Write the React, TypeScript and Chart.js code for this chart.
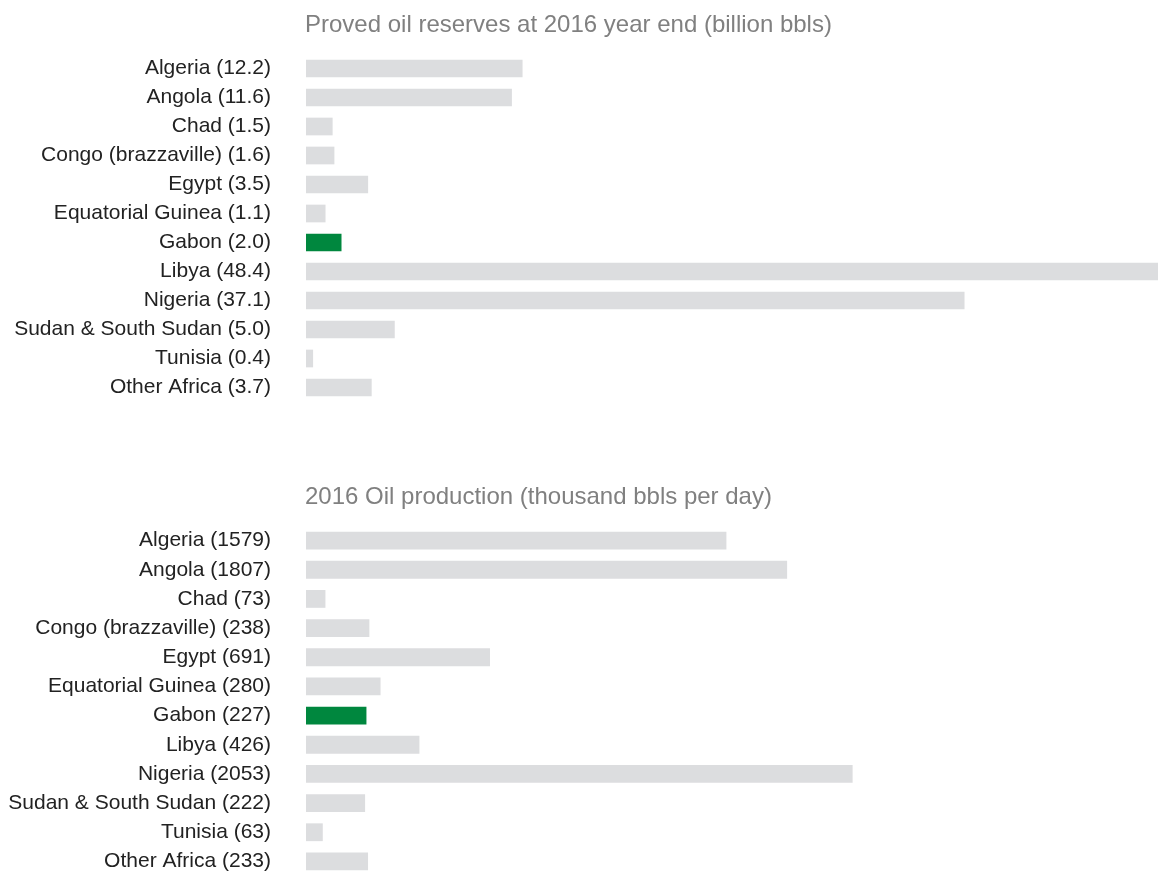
import React, { useEffect, useRef } from "react";
import { Chart, registerables } from "chart.js";

Chart.register(...registerables);

const categories = [
  "Algeria",
  "Angola",
  "Chad",
  "Congo (brazzaville)",
  "Egypt",
  "Equatorial Guinea",
  "Gabon",
  "Libya",
  "Nigeria",
  "Sudan & South Sudan",
  "Tunisia",
  "Other Africa",
];

const reservesValues = [12.2, 11.6, 1.5, 1.6, 3.5, 1.1, 2.0, 48.4, 37.1, 5.0, 0.4, 3.7];
const productionValues = [1579, 1807, 73, 238, 691, 280, 227, 426, 2053, 222, 63, 233];

const reservesTitle = "Proved oil reserves at 2016 year end (billion bbls)";
const productionTitle = "2016 Oil production (thousand bbls per day)";

const reservesMax = 48;
const productionMax = 3200;

const highlight = "Gabon";

const GRAY = "#dcdddf";
const GREEN = "#00873e";
const FONT = "'Liberation Sans', Arial, Helvetica, sans-serif";

const panelTitlePlugin = {
  id: "panelTitle",
  afterDraw(chart: any, _args: any, opts: any) {
    const { ctx, chartArea } = chart;
    ctx.save();
    ctx.font = `24px ${FONT}`;
    ctx.fillStyle = "#808080";
    ctx.textAlign = "left";
    ctx.textBaseline = "middle";
    ctx.fillText(opts.text, chartArea.left - 1, opts.y);
    ctx.restore();
  },
};

function BarPanel({
  title,
  values,
  max,
  decimals,
  top,
  padBottom,
}: {
  title: string;
  values: number[];
  max: number;
  decimals: number;
  top: number;
  padBottom: number;
}) {
  const ref = useRef<HTMLCanvasElement | null>(null);
  useEffect(() => {
    if (!ref.current) return;
    const labels = categories.map(
      (c, i) => `${c} (${values[i].toFixed(decimals)})`
    );
    const chart = new Chart(ref.current, {
      type: "bar",
      data: {
        labels,
        datasets: [
          {
            data: values,
            backgroundColor: categories.map((c) => (c === highlight ? GREEN : GRAY)),
            borderWidth: 0,
            barPercentage: 0.61,
            categoryPercentage: 1,
          },
        ],
      },
      plugins: [panelTitlePlugin],
      options: {
        indexAxis: "y",
        animation: false,
        responsive: false,
        maintainAspectRatio: false,
        layout: { padding: { top: 54, bottom: padBottom, left: 0, right: 0 } },
        plugins: {
          legend: { display: false },
          tooltip: { enabled: false },
          title: { display: false },
          panelTitle: { text: title, y: 25 },
        } as any,
        scales: {
          x: {
            display: false,
            min: 0,
            max,
          },
          y: {
            grid: { display: false, drawTicks: false },
            border: { display: false },
            ticks: {
              padding: 35,
              color: "#222222",
              font: { family: FONT, size: 21 },
              autoSkip: false,
            },
            afterFit(scale: any) {
              scale.width = 306;
              scale.paddingTop = 0;
              scale.paddingBottom = 0;
            },
          },
        },
      },
    });
    return () => chart.destroy();
  }, [title, values, max, decimals, padBottom]);

  return (
    <div style={{ position: "absolute", left: 0, top, width: 1158, height: 420 }}>
      <canvas ref={ref} width={1158} height={420} style={{ display: "block" }} />
    </div>
  );
}

export default function App() {
  return (
    <div
      style={{
        position: "fixed",
        left: 0,
        top: 0,
        width: 1158,
        height: 875,
        overflow: "hidden",
        background: "#ffffff",
      }}
    >
      <BarPanel title={reservesTitle} values={reservesValues} max={reservesMax} decimals={1} top={0} padBottom={18} />
      <BarPanel title={productionTitle} values={productionValues} max={productionMax} decimals={0} top={472} padBottom={16} />
    </div>
  );
}
